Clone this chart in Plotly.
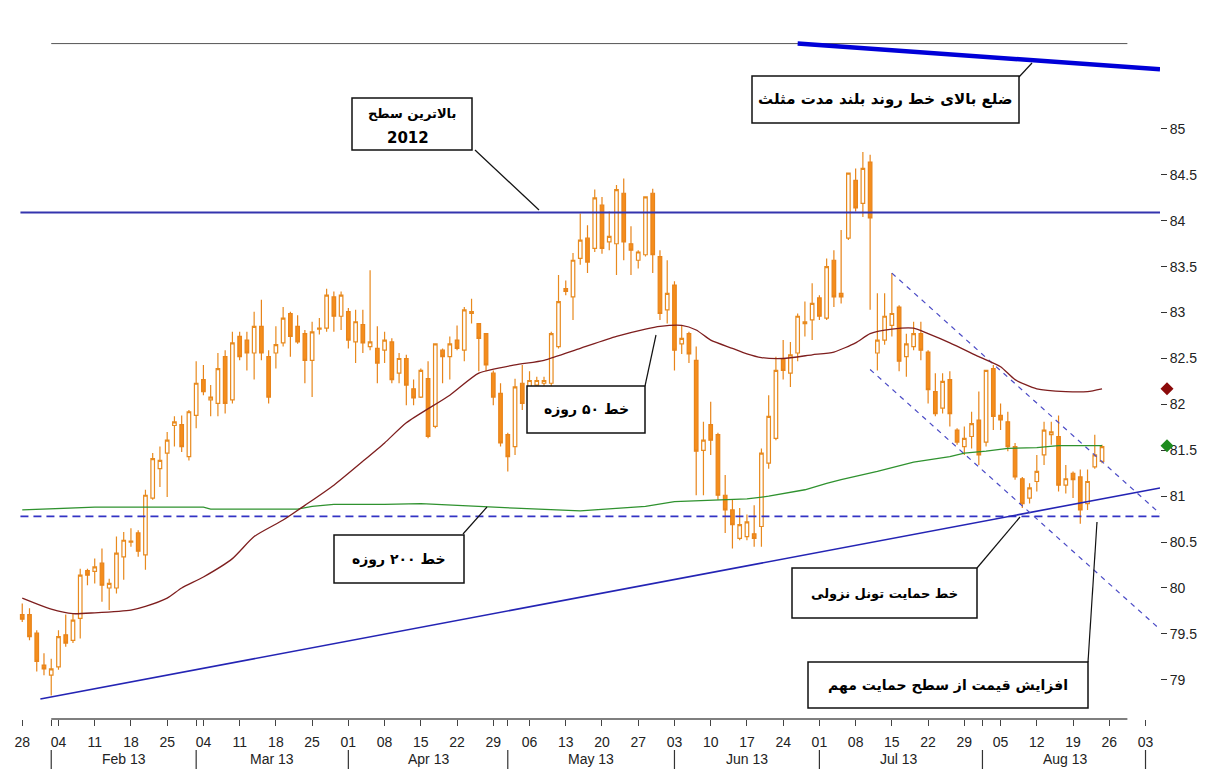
import pandas as pd
import plotly.graph_objects as go

# ---------------- data ----------------
trade_dates = pd.bdate_range("2013-01-28", "2013-08-23")

opens = [79.71, 79.71, 79.51, 79.16, 79.05, 79.14, 79.49, 79.43, 79.67, 80.19,
         80.18, 80.27, 80.00, 80.00, 80.34, 80.50, 80.60, 80.36, 80.98, 81.30,
         81.47, 81.77, 81.78, 81.43, 81.88, 82.27, 82.05, 82.01, 82.52, 82.05,
         82.74, 82.70, 82.56, 82.85, 82.52, 82.56, 82.67, 82.99, 82.85, 82.77,
         82.48, 82.82, 82.83, 83.17, 82.96, 83.01, 82.68, 82.87, 82.63, 82.61,
         82.59, 82.68, 82.34, 82.50, 82.17, 82.08, 82.28, 81.76, 82.59, 82.52,
         82.70, 82.59, 82.99, 82.88, 82.77, 82.34, 82.12, 81.67, 81.54, 82.23,
         82.17, 82.21, 82.23, 82.23, 82.63, 83.26, 83.17, 83.59, 83.81, 83.70,
         84.17, 83.77, 83.75, 84.30, 83.75, 83.57, 83.63, 84.30, 83.61, 83.03,
         83.30, 82.66, 82.77, 82.48, 81.50, 81.78, 81.67, 81.01, 80.85, 80.54,
         80.56, 80.59, 80.67, 81.36, 81.63, 82.50, 82.34, 82.56, 82.88, 82.92,
         83.16, 82.94, 83.57, 83.21, 83.81, 84.44, 84.19, 84.64, 82.56, 82.70,
         82.86, 83.06, 82.52, 82.63, 82.77, 82.57, 82.14, 81.96, 82.27, 81.72,
         81.54, 81.65, 81.83, 81.59, 82.39, 81.88, 81.81, 81.54, 81.19, 80.98,
         81.16, 81.45, 81.67, 81.65, 81.12, 81.25, 81.21, 80.92, 81.32, 81.38]
highs = [79.83, 79.78, 79.54, 79.29, 79.23, 79.54, 79.71, 79.72, 80.21, 80.21,
         80.32, 80.43, 80.10, 80.56, 80.61, 80.65, 80.63, 81.07, 81.47, 81.54,
         81.70, 81.87, 81.88, 81.94, 82.47, 82.43, 82.21, 82.56, 82.59, 82.79,
         82.79, 82.79, 83.01, 83.14, 82.59, 82.85, 83.06, 83.01, 82.97, 82.81,
         82.90, 82.94, 83.26, 83.23, 83.23, 83.05, 83.03, 83.03, 83.46, 82.85,
         82.79, 82.72, 82.56, 82.54, 82.27, 82.39, 82.47, 82.66, 82.61, 82.74,
         82.86, 83.06, 83.15, 82.88, 82.77, 82.37, 82.23, 81.69, 82.28, 82.43,
         82.36, 82.30, 82.30, 82.79, 83.41, 83.35, 83.65, 84.08, 83.95, 84.34,
         84.26, 84.10, 84.39, 84.46, 83.94, 83.68, 84.26, 84.35, 83.68, 83.57,
         83.34, 82.86, 82.79, 82.63, 81.81, 82.03, 81.69, 81.23, 80.96, 80.87,
         80.80, 80.90, 81.52, 82.10, 82.52, 82.70, 82.68, 82.99, 83.12, 83.32,
         83.19, 83.59, 83.68, 83.90, 84.52, 84.57, 84.75, 84.72, 83.21, 83.21,
         83.43, 83.08, 82.77, 82.90, 82.90, 82.59, 82.34, 82.34, 82.36, 81.74,
         81.76, 81.92, 82.14, 82.37, 82.43, 82.01, 81.92, 81.58, 81.21, 81.14,
         81.45, 81.81, 81.81, 81.88, 81.34, 81.27, 81.29, 81.29, 81.67, 81.56]
lows = [79.63, 79.43, 79.09, 79.05, 78.83, 79.11, 79.36, 79.40, 79.45, 80.03,
        80.05, 79.85, 79.76, 79.94, 80.09, 80.45, 80.34, 80.20, 80.96, 81.10,
        80.99, 81.54, 81.48, 81.39, 81.74, 82.10, 81.87, 81.87, 81.90, 82.01,
        82.48, 82.37, 82.27, 82.48, 82.01, 82.39, 82.63, 82.52, 82.66, 82.23,
        82.08, 82.76, 82.79, 82.79, 82.81, 82.61, 82.45, 82.56, 82.59, 82.23,
        82.45, 82.23, 82.23, 81.99, 81.99, 82.07, 81.63, 81.74, 82.23, 82.27,
        82.59, 82.47, 82.88, 82.36, 82.36, 81.99, 81.54, 81.27, 81.45, 81.94,
        82.10, 82.10, 82.10, 82.10, 82.61, 83.19, 82.92, 83.52, 83.43, 83.66,
        83.64, 83.68, 83.41, 83.57, 83.41, 83.48, 83.61, 83.43, 82.92, 82.88,
        82.37, 82.55, 82.45, 81.01, 81.01, 81.45, 80.96, 80.60, 80.43, 80.52,
        80.52, 80.45, 80.45, 81.30, 81.61, 82.27, 82.19, 82.47, 82.74, 82.70,
        82.92, 82.92, 83.06, 83.10, 83.79, 84.10, 84.04, 83.03, 82.37, 82.65,
        82.74, 82.36, 82.30, 82.59, 82.48, 82.01, 81.87, 81.90, 81.76, 81.56,
        81.45, 81.52, 81.34, 81.54, 81.72, 81.72, 81.49, 81.18, 80.87, 80.92,
        81.05, 81.34, 81.56, 81.05, 81.03, 80.98, 80.70, 80.85, 81.30, 81.36]
closes = [79.66, 79.47, 79.20, 79.12, 79.12, 79.47, 79.40, 79.65, 80.14, 80.14,
          80.23, 80.03, 80.05, 80.38, 80.52, 80.51, 80.40, 81.01, 81.41, 81.39,
          81.61, 81.81, 81.54, 81.92, 82.23, 82.14, 82.08, 82.39, 82.01, 82.67,
          82.52, 82.56, 82.85, 82.56, 82.08, 82.65, 82.94, 82.74, 82.68, 82.48,
          82.79, 82.83, 83.19, 82.96, 83.19, 82.70, 82.90, 82.67, 82.68, 82.45,
          82.70, 82.27, 82.50, 82.21, 82.07, 82.37, 81.65, 82.66, 82.52, 82.66,
          82.61, 83.03, 83.01, 82.72, 82.43, 82.08, 81.58, 81.43, 82.19, 82.01,
          82.26, 82.26, 82.26, 82.77, 83.12, 83.23, 83.57, 83.79, 83.55, 84.25,
          83.70, 83.83, 84.34, 83.77, 83.68, 83.66, 84.26, 83.63, 82.99, 83.21,
          82.59, 82.72, 82.55, 81.49, 81.61, 81.61, 81.01, 80.85, 80.69, 80.69,
          80.72, 80.54, 81.47, 81.87, 82.37, 82.37, 82.54, 82.96, 82.90, 83.10,
          82.96, 83.50, 83.17, 83.17, 84.52, 84.14, 84.57, 84.03, 82.70, 82.96,
          82.99, 82.47, 82.66, 82.77, 82.59, 82.16, 81.90, 82.25, 81.90, 81.59,
          81.63, 81.79, 81.45, 82.37, 81.87, 81.83, 81.54, 81.21, 80.92, 81.09,
          81.27, 81.72, 81.70, 81.12, 81.19, 81.18, 80.85, 81.16, 81.45, 81.54]

ma50_dates = ["2013-01-28", "2013-02-01", "2013-02-06", "2013-02-11", "2013-02-18",
              "2013-02-20", "2013-02-25", "2013-02-27", "2013-03-04", "2013-03-08",
              "2013-03-13", "2013-03-19", "2013-03-22", "2013-03-28", "2013-04-03",
              "2013-04-08", "2013-04-11", "2013-04-19", "2013-04-25",
              "2013-05-02", "2013-05-08", "2013-05-15", "2013-05-22", "2013-05-28",
              "2013-05-30", "2013-06-04", "2013-06-06", "2013-06-10", "2013-06-13",
              "2013-06-17", "2013-06-19", "2013-06-24", "2013-06-28", "2013-07-03",
              "2013-07-08", "2013-07-10", "2013-07-15", "2013-07-18", "2013-07-22",
              "2013-07-25", "2013-07-31", "2013-08-05", "2013-08-07", "2013-08-12",
              "2013-08-16", "2013-08-21", "2013-08-23"]
ma50_vals = [79.89, 79.77, 79.72, 79.73, 79.76, 79.80, 79.89, 80.00, 80.12, 80.32,
             80.56, 80.74, 80.90, 81.12, 81.38, 81.58, 81.80, 82.10, 82.34,
             82.43, 82.48, 82.61, 82.74, 82.82, 82.85, 82.86, 82.81, 82.70, 82.61,
             82.55, 82.51, 82.50, 82.54, 82.57, 82.67, 82.77, 82.82, 82.83, 82.77,
             82.67, 82.52, 82.41, 82.27, 82.17, 82.14, 82.14, 82.17]

ma200_dates = ["2013-01-28", "2013-02-01", "2013-02-11", "2013-03-04", "2013-03-05",
               "2013-03-21", "2013-03-25", "2013-03-28", "2013-04-08", "2013-04-15",
               "2013-04-24", "2013-05-02", "2013-05-15", "2013-05-28", "2013-06-03",
               "2013-06-17", "2013-06-20", "2013-06-27", "2013-07-02", "2013-07-04",
               "2013-07-11", "2013-07-18", "2013-07-25", "2013-07-29", "2013-08-01",
               "2013-08-06", "2013-08-12", "2013-08-15", "2013-08-23"]
ma200_vals = [80.85, 80.86, 80.88, 80.88, 80.86, 80.86, 80.89, 80.91, 80.91, 80.92,
              80.89, 80.87, 80.84, 80.89, 80.94, 80.97, 81.00, 81.07, 81.14, 81.18,
              81.27, 81.37, 81.43, 81.47, 81.49, 81.52, 81.53, 81.55, 81.55]

# drawn study lines: (start date, start value, end date, end value)
high_2012_line = ("2013-01-25 18:00", 84.09, "2013-09-05", 84.09)
support_dash_line = ("2013-01-25 18:00", 80.78, "2013-09-05", 80.78)
uptrend_line = ("2013-01-30 12:00", 78.79, "2013-09-05", 81.09)
channel_upper = ("2013-07-15", 83.43, "2013-09-05", 80.81)
channel_lower = ("2013-07-10", 82.38, "2013-09-05", 79.55)
triangle_top = ("2013-06-26", 85.93, "2013-09-05", 85.65)
top_level_line = ("2013-02-01", 85.93, "2013-08-28 12:00", 85.93)

last_marker_vals = [82.17, 81.55]   # last 50-day and 200-day values
last_marker_colors = ["#8B0A0A", "#1E8C1E"]

week_ticks = ["2013-01-28", "2013-02-04", "2013-02-11", "2013-02-18", "2013-02-25",
              "2013-03-04", "2013-03-11", "2013-03-18", "2013-03-25", "2013-04-01",
              "2013-04-08", "2013-04-15", "2013-04-22", "2013-04-29", "2013-05-06",
              "2013-05-13", "2013-05-20", "2013-05-27", "2013-06-03", "2013-06-10",
              "2013-06-17", "2013-06-24", "2013-07-01", "2013-07-08", "2013-07-15",
              "2013-07-22", "2013-07-29", "2013-08-05", "2013-08-12", "2013-08-19",
              "2013-08-26", "2013-09-03"]
week_labels = ["28", "04", "11", "18", "25", "04", "11", "18", "25", "01", "08", "15",
               "22", "29", "06", "13", "20", "27", "03", "10", "17", "24", "01", "08",
               "15", "22", "29", "05", "12", "19", "26", "03"]
month_starts = ["2013-02-01", "2013-03-01", "2013-04-01", "2013-05-01", "2013-06-03",
                "2013-07-01", "2013-07-31 12:00", "2013-09-03"]
month_label_pos = ["2013-02-15", "2013-03-15 12:00", "2013-04-16", "2013-05-16 12:00",
                   "2013-06-17", "2013-07-16", "2013-08-16"]
month_labels = ["Feb 13", "Mar 13", "Apr 13", "May 13", "Jun 13", "Jul 13", "Aug 13"]
holidays = ["2013-09-02"]

y_ticks = [79, 79.5, 80, 80.5, 81, 81.5, 82, 82.5, 83, 83.5, 84, 84.5, 85]

# ---------------- figure ----------------
W, H = 1214, 769
ML, MR, T, B = 15, 20, 20, 719          # margins / plot top & bottom (px)
PR = 1160                               # right edge of price area (px)
PW = W - ML - MR


def px_x(p):
    return (p - ML) / PW


def px_y(p):
    return (B - p) / (B - T)


XDOM = px_x(PR)

fig = go.Figure()

fig.add_trace(go.Candlestick(
    x=trade_dates, open=opens, high=highs, low=lows, close=closes,
    increasing=dict(line=dict(color="#E88A1E", width=1.2), fillcolor="white"),
    decreasing=dict(line=dict(color="#E8841A", width=1.2), fillcolor="#F58D1C"),
    whiskerwidth=0, hoverinfo="skip"))


def add_line(spec, color, width, dash="solid"):
    x0, y0, x1, y1 = spec
    fig.add_trace(go.Scatter(x=[x0, x1], y=[y0, y1], mode="lines",
                             line=dict(color=color, width=width, dash=dash),
                             hoverinfo="skip"))


add_line(top_level_line, "#555555", 1)
add_line(high_2012_line, "#3434AE", 2)
add_line(support_dash_line, "#3333C4", 1.6, "8px,5px")
add_line(uptrend_line, "#2424B4", 1.6)
add_line(channel_upper, "#4B4BC6", 1.2, "5px,5px")
add_line(channel_lower, "#4B4BC6", 1.2, "5px,5px")
add_line(triangle_top, "#0000D8", 4.5)

fig.add_trace(go.Scatter(x=ma200_dates, y=ma200_vals, mode="lines",
                         line=dict(color="#2F922F", width=1.3), hoverinfo="skip"))
fig.add_trace(go.Scatter(x=ma50_dates, y=ma50_vals, mode="lines",
                         line=dict(color="#7E1E1E", width=1.3, shape="spline", smoothing=0.6),
                         hoverinfo="skip"))

# last-value diamonds on a tiny side axis next to the price axis
fig.add_trace(go.Scatter(x=[0.5, 0.5], y=last_marker_vals, mode="markers",
                         xaxis="x2", yaxis="y",
                         marker=dict(symbol="diamond", size=10, color=last_marker_colors),
                         cliponaxis=False, hoverinfo="skip"))

shapes = []
shapes.append(dict(type="line", xref="x", yref="paper", x0="2013-02-01", x1="2013-08-28 12:00",
                   y0=0, y1=0, line=dict(color="#555555", width=1.5)))
for d in month_starts:
    shapes.append(dict(type="line", xref="x", yref="paper", x0=d, x1=d,
                       y0=px_y(750), y1=px_y(769), line=dict(color="#333333", width=1.2)))

boxes = [
    ("", 352, 98, 472, 150, 13),
    ("خط ۵۰ روزه", 527, 386, 645, 433, 14),
    ("خط ۲۰۰ روزه", 334, 535, 464, 583, 14),
    ("خط حمایت تونل نزولی", 792, 568, 977, 618, 13),
    ("افزایش قیمت از سطح حمایت مهم", 808, 662, 1088, 708, 14),
    ("ضلع بالای خط روند بلند مدت مثلث", 752, 76, 1019, 123, 15),
]
leaders = [
    (475, 150, 539, 210),
    (645, 386, 656, 335),
    (463, 534, 487, 507),
    (977, 568, 1020, 517),
    (1088, 662, 1097, 522),
    (1019, 77, 1032, 63),
]
for (x0, y0, x1, y1) in leaders:
    shapes.append(dict(type="line", xref="paper", yref="paper",
                       x0=px_x(x0), y0=px_y(y0), x1=px_x(x1), y1=px_y(y1),
                       line=dict(color="#111111", width=1.2)))
annotations = []
FA = "DejaVu Sans"
for (txt, x0, y0, x1, y1, fs) in boxes:
    shapes.append(dict(type="rect", xref="paper", yref="paper",
                       x0=px_x(x0), y0=px_y(y0), x1=px_x(x1), y1=px_y(y1),
                       fillcolor="white", line=dict(color="#111111", width=1.5)))
    if txt:
        annotations.append(dict(xref="paper", yref="paper", x=px_x((x0 + x1) / 2),
                                y=px_y((y0 + y1) / 2), text="<b>" + txt + "</b>",
                                showarrow=False, xanchor="center", yanchor="middle",
                                font=dict(family=FA, size=fs, color="#000000")))
# two-line box (highest level of 2012)
annotations.append(dict(xref="paper", yref="paper", x=px_x(412), y=px_y(114),
                        text="<b>بالاترین سطح</b>", showarrow=False,
                        xanchor="center", yanchor="middle",
                        font=dict(family=FA, size=13, color="#000000")))
annotations.append(dict(xref="paper", yref="paper", x=px_x(408), y=px_y(138),
                        text="<b>2012</b>", showarrow=False,
                        xanchor="center", yanchor="middle",
                        font=dict(family=FA, size=15, color="#000000")))

for pos, lab in zip(month_label_pos, month_labels):
    annotations.append(dict(xref="x", yref="paper", x=pos, y=px_y(759), text=lab,
                            showarrow=False, xanchor="center", yanchor="middle",
                            font=dict(family="Liberation Sans", size=14, color="#222222")))

extra = [d for d in month_starts if d not in week_ticks]
tickvals = week_ticks + extra
ticktext = week_labels + ["" for _ in extra]

fig.update_layout(
    width=W, height=H,
    margin=dict(l=ML, r=MR, t=T, b=H - B),
    paper_bgcolor="white", plot_bgcolor="white",
    showlegend=False, hovermode=False,
    shapes=shapes, annotations=annotations,
    xaxis=dict(type="date", domain=[0, XDOM], anchor="y",
               range=["2013-01-25", "2013-09-05"],
               rangebreaks=[dict(bounds=["sat", "mon"]), dict(values=holidays)],
               rangeslider=dict(visible=False),
               tickmode="array", tickvals=tickvals, ticktext=ticktext,
               ticks="outside", ticklen=6, tickcolor="#444444", tickwidth=1,
               showgrid=False, zeroline=False, showline=False,
               ticklabelstandoff=4,
               tickfont=dict(family="Liberation Sans", size=14, color="#222222")),
    xaxis2=dict(domain=[px_x(PR + 1), px_x(PR + 13)], anchor="y", range=[0, 1],
                visible=False, showgrid=False, zeroline=False),
    yaxis=dict(anchor="free", position=XDOM, side="right", range=[78.573, 86.187],
               tickmode="array", tickvals=y_ticks,
               ticks="outside", ticklen=6, tickcolor="#333333", tickwidth=1,
               showgrid=False, zeroline=False, showline=False,
               tickfont=dict(family="Liberation Sans", size=14, color="#222222")),
)

fig.write_html("out.html", config={"displayModeBar": False},
               post_script="document.body.style.margin='0px';document.body.style.overflow='hidden';")
